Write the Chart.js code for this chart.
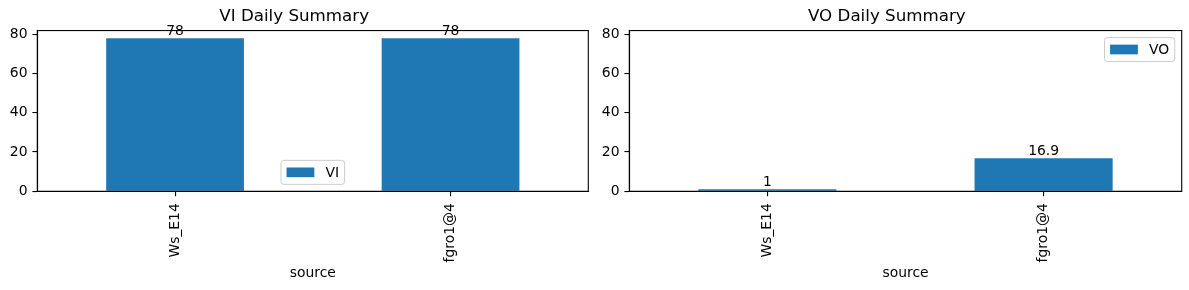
<!DOCTYPE html>
<html lang="en">
<head>
<meta charset="UTF-8">
<title>VI / VO Daily Summary</title>
<script src="https://cdn.jsdelivr.net/npm/chart.js"></script>
<style>
    body { margin: 0; background: #fff; width: 1189px; height: 290px; overflow: hidden; position: relative; }
    canvas { position: absolute; top: 0; }
    #viChart { left: 0; }
    #voChart { left: 592px; }
</style>
</head>
<body>
<canvas id="viChart" width="592" height="290"></canvas>
<canvas id="voChart" width="597" height="290"></canvas>

<script>
    // values
    const sources = ['Ws_E14', 'fgro1@4'];
    const viValues = [78, 78];
    const voValues = [1, 16.9];
    const yTicks = [0, 20, 40, 60, 80];
    const yMax = 81.9;

    const FONT = 'DejaVu Sans';
    const FS = 13.9;
    const BLUE = '#1f77b4';

    // top/right spines
    const frame = {
        id: 'frame',
        afterDraw(chart) {
            const { ctx, chartArea: a } = chart;
            ctx.save();
            ctx.strokeStyle = '#000';
            ctx.lineWidth = 1.1;
            ctx.strokeRect(a.left, a.top, a.right - a.left, a.bottom - a.top);
            ctx.restore();
        }
    };

    // value on top of each bar
    const barLabels = {
        id: 'barLabels',
        afterDatasetsDraw(chart) {
            const ctx = chart.ctx;
            const ds = chart.data.datasets[0];
            ctx.save();
            ctx.font = FS + 'px "' + FONT + '"';
            ctx.fillStyle = '#000';
            ctx.textAlign = 'center';
            ctx.textBaseline = 'bottom';
            chart.getDatasetMeta(0).data.forEach((bar, i) => {
                ctx.fillText(String(ds.data[i]), bar.x, bar.y);
            });
            ctx.restore();
        }
    };

    // matplotlib-like legend box inside the axes
    const boxLegend = {
        id: 'boxLegend',
        afterDraw(chart, args, opts) {
            const { ctx, chartArea: a } = chart;
            const ds = chart.data.datasets[0];
            ctx.save();
            ctx.font = FS + 'px "' + FONT + '"';
            const tw = ctx.measureText(ds.label).width;
            const pad = 0.4 * FS, hl = 2 * FS, hh = 0.7 * FS, gap = 0.8 * FS, bap = 0.5 * FS;
            const w = pad + hl + gap + tw + pad;
            const h = 24;
            let x, y;
            if (opts.loc === 'upper right') {
                x = a.right - bap - w;
                y = a.top + bap;
            } else {
                x = (a.left + a.right) / 2 - w / 2;
                y = a.bottom - bap - h;
            }
            ctx.beginPath();
            ctx.roundRect(x, y, w, h, 0.2 * FS);
            ctx.fillStyle = 'rgba(255,255,255,0.8)';
            ctx.fill();
            ctx.strokeStyle = '#cccccc';
            ctx.lineWidth = 1;
            ctx.stroke();
            ctx.fillStyle = ds.backgroundColor;
            ctx.fillRect(x + pad, y + h / 2 - hh / 2, hl, hh);
            ctx.fillStyle = '#000';
            ctx.textBaseline = 'middle';
            ctx.textAlign = 'left';
            ctx.fillText(ds.label, x + pad + hl + gap, y + h / 2 + 1);
            ctx.restore();
        }
    };

    function makeChart(id, title, label, values, legendLoc, padRight) {
        const tickFont = { family: FONT, size: FS };
        return new Chart(document.getElementById(id), {
            type: 'bar',
            data: {
                labels: sources,
                datasets: [{
                    label: label,
                    data: values,
                    backgroundColor: BLUE,
                    borderWidth: 0,
                    barPercentage: 0.5,
                    categoryPercentage: 1
                }]
            },
            plugins: [frame, barLabels, boxLegend],
            options: {
                responsive: false,
                animation: false,
                layout: { padding: { left: 0, right: padRight, top: 0, bottom: 0 } },
                plugins: {
                    legend: { display: false },
                    tooltip: { enabled: false },
                    title: {
                        display: true,
                        text: title,
                        color: '#000',
                        font: { family: FONT, size: 16.7, weight: 'normal', lineHeight: 1.2 },
                        padding: { top: 7, bottom: 3.5 }
                    },
                    boxLegend: { loc: legendLoc }
                },
                scales: {
                    x: {
                        offset: true,
                        grid: { display: true, drawOnChartArea: false, drawTicks: true, tickLength: 4.9, color: '#000', lineWidth: 1.1, offset: false },
                        border: { display: true, color: '#000', width: 1.1 },
                        ticks: { color: '#000', font: tickFont, minRotation: 90, maxRotation: 90, padding: 7, autoSkip: false },
                        title: { display: true, text: 'source', color: '#000', font: tickFont, padding: { top: 0, bottom: 8 } },
                        afterFit(scale) { scale.height = 98.7; }
                    },
                    y: {
                        min: 0,
                        max: yMax,
                        grid: { display: true, drawOnChartArea: false, drawTicks: true, tickLength: 4.9, color: '#000', lineWidth: 1.1 },
                        border: { display: true, color: '#000', width: 1.1 },
                        ticks: { color: '#000', font: tickFont, padding: 4.9 },
                        afterBuildTicks(scale) { scale.ticks = yTicks.map(v => ({ value: v })); },
                        afterFit(scale) { scale.width = 37.3; }
                    }
                }
            }
        });
    }

    makeChart('viChart', 'VI Daily Summary', 'VI', viValues, 'lower center', 3.7);
    makeChart('voChart', 'VO Daily Summary', 'VO', voValues, 'upper right', 7.3);
</script>
</body>
</html>
